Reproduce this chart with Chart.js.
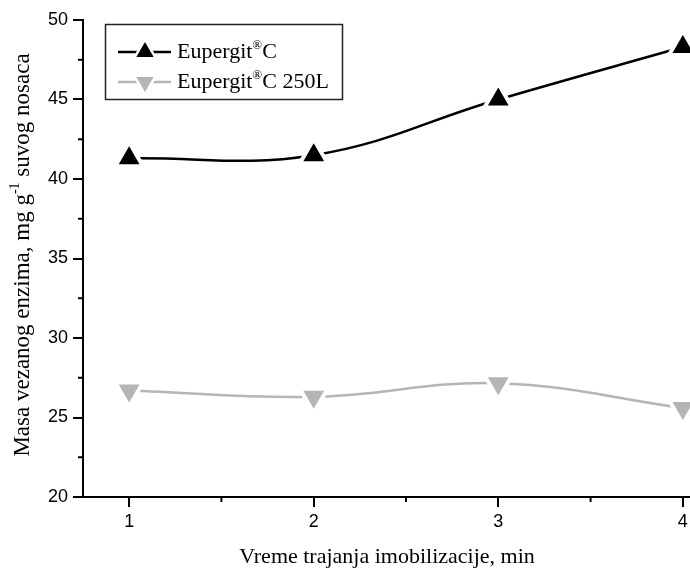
<!DOCTYPE html>
<html>
<head>
<meta charset="utf-8">
<script src="https://cdn.jsdelivr.net/npm/chart.js@4"></script>
<style>
  html, body { margin: 0; padding: 0; background: #fff; overflow: hidden; }
  #wrap { width: 736px; height: 572px; }
</style>
</head>
<body>
<div id="wrap"><canvas id="myChart"></canvas></div>
<script>
let xValues = [1, 2, 3, 4];
let seriesC = [41.3, 41.5, 45.0, 48.3];
let series250L = [26.7, 26.3, 27.15, 25.6];
let seriesLabels = ['Eupergit®C', 'Eupergit®C 250L'];
let colorHex = ['#000000', '#b5b5b5'];
let xTicks = [1, 2, 3, 4];
let xMinorTicks = [1.5, 2.5, 3.5];
let yTicks = [20, 25, 30, 35, 40, 45, 50];
let yMinorTicks = [22.5, 27.5, 32.5, 37.5, 42.5, 47.5];
let xTitle = 'Vreme trajanja imobilizacije, min';
let yTitle = [['Masa vezanog enzima, mg g', false], ['-1', true], [' suvog nosaca', false]];

const serif = '"Liberation Serif", "Times New Roman", serif';

// text with superscript pieces, drawn left to right from x
function drawParts(ctx, parts, x, y, size, supSize) {
  parts.forEach(([t, sup]) => {
    ctx.font = (sup ? supSize : size) + 'px ' + serif;
    ctx.fillText(t, x, sup ? y - size * 0.42 : y);
    x += ctx.measureText(t).width;
  });
}
function partsWidth(ctx, parts, size, supSize) {
  let w = 0;
  parts.forEach(([t, sup]) => {
    ctx.font = (sup ? supSize : size) + 'px ' + serif;
    w += ctx.measureText(t).width;
  });
  return w;
}

function triangle(ctx, cx, cy, r, down) {
  let s = down ? -1 : 1;
  ctx.beginPath();
  ctx.moveTo(cx, cy - s * r);
  ctx.lineTo(cx + r * 0.866, cy + s * r / 2);
  ctx.lineTo(cx - r * 0.866, cy + s * r / 2);
  ctx.closePath();
}

const extras = {
  id: 'extras',
  afterDraw(chart) {
    const {ctx, chartArea} = chart;
    const x = chart.scales.x, y = chart.scales.y;
    ctx.save();
    // minor ticks
    ctx.strokeStyle = '#000';
    ctx.lineWidth = 2;
    xMinorTicks.forEach(v => {
      let px = x.getPixelForValue(v);
      ctx.beginPath();
      ctx.moveTo(px, chartArea.bottom);
      ctx.lineTo(px, chartArea.bottom + 5);
      ctx.stroke();
    });
    yMinorTicks.forEach(v => {
      let py = y.getPixelForValue(v);
      ctx.beginPath();
      ctx.moveTo(chartArea.left, py);
      ctx.lineTo(chartArea.left - 5, py);
      ctx.stroke();
    });

    // axis titles
    ctx.fillStyle = '#000';
    ctx.textBaseline = 'alphabetic';
    ctx.textAlign = 'center';
    ctx.font = '22px ' + serif;
    ctx.fillText(xTitle, 387, 563);

    ctx.textAlign = 'left';
    ctx.save();
    ctx.translate(29, 255);
    ctx.rotate(-Math.PI / 2);
    let w = partsWidth(ctx, yTitle, 23, 14);
    drawParts(ctx, yTitle, -w / 2, 0, 23, 14);
    ctx.restore();

    // legend
    ctx.strokeStyle = '#222';
    ctx.lineWidth = 1.5;
    ctx.strokeRect(105.5, 24.5, 237, 75);
    let rows = [52, 82];
    seriesLabels.forEach((label, i) => {
      let ly = rows[i];
      ctx.strokeStyle = colorHex[i];
      ctx.lineWidth = 2.5;
      ctx.beginPath();
      ctx.moveTo(118, ly); ctx.lineTo(171, ly);
      ctx.stroke();
      triangle(ctx, 145, ly, 11, i === 1);
      ctx.strokeStyle = '#fff';
      ctx.lineWidth = 4;
      ctx.stroke();
      triangle(ctx, 145, ly, 10, i === 1);
      ctx.fillStyle = colorHex[i];
      ctx.fill();
      let bits = label.split('®');
      ctx.fillStyle = '#000';
      drawParts(ctx, [[bits[0], false], ['®', true], [bits[1], false]], 177, ly + 6, 22, 13);
    });
    ctx.restore();
  }
};

let ctx = document.getElementById('myChart').getContext('2d');

let myChart = new Chart(ctx, {
  type: 'line',
  data: {
    datasets: [{
      label: seriesLabels[0],
      data: xValues.map((v, i) => ({x: v, y: seriesC[i]})),
      borderColor: colorHex[0],
      backgroundColor: colorHex[0],
      borderWidth: 2.5,
      tension: 0.4,
      pointStyle: 'triangle',
      pointRadius: 16,
      pointBorderWidth: 4,
      pointBorderColor: '#fff',
      pointBackgroundColor: colorHex[0]
    }, {
      label: seriesLabels[1],
      data: xValues.map((v, i) => ({x: v, y: series250L[i]})),
      borderColor: colorHex[1],
      backgroundColor: colorHex[1],
      borderWidth: 2.5,
      tension: 0.4,
      pointStyle: 'triangle',
      pointRotation: 180,
      pointRadius: 16,
      pointBorderWidth: 4,
      pointBorderColor: '#fff',
      pointBackgroundColor: colorHex[1]
    }]
  },
  options: {
    responsive: true,
    maintainAspectRatio: false,
    animation: false,
    layout: {
      autoPadding: false,
      padding: {top: 20, right: 7, bottom: 0, left: 0}
    },
    plugins: {
      legend: {display: false},
      tooltip: {enabled: false}
    },
    scales: {
      x: {
        type: 'linear',
        min: 0.75,
        max: 4.25,
        afterBuildTicks: (scale) => {
          scale.ticks = xTicks.map(v => ({value: v}));
        },
        afterFit: (scale) => {
          scale.height = 75;
          scale.paddingLeft = 0;
          scale.paddingRight = 0;
        },
        grid: {
          drawOnChartArea: false,
          tickLength: 10,
          color: '#000',
          lineWidth: 2
        },
        border: {display: true, color: '#000', width: 2},
        ticks: {
          color: '#000',
          padding: 4,
          maxRotation: 0,
          font: {family: '"Liberation Sans", Arial, sans-serif', size: 18}
        }
      },
      y: {
        min: 20,
        max: 50,
        afterBuildTicks: (scale) => {
          scale.ticks = yTicks.map(v => ({value: v}));
        },
        afterFit: (scale) => {
          scale.width = 83;
          scale.paddingTop = 0;
          scale.paddingBottom = 0;
        },
        grid: {
          drawOnChartArea: false,
          tickLength: 10,
          color: '#000',
          lineWidth: 2
        },
        border: {display: true, color: '#000', width: 2},
        ticks: {
          color: '#000',
          padding: 5,
          font: {family: '"Liberation Sans", Arial, sans-serif', size: 18}
        }
      }
    }
  },
  plugins: [extras]
});
</script>
</body>
</html>
